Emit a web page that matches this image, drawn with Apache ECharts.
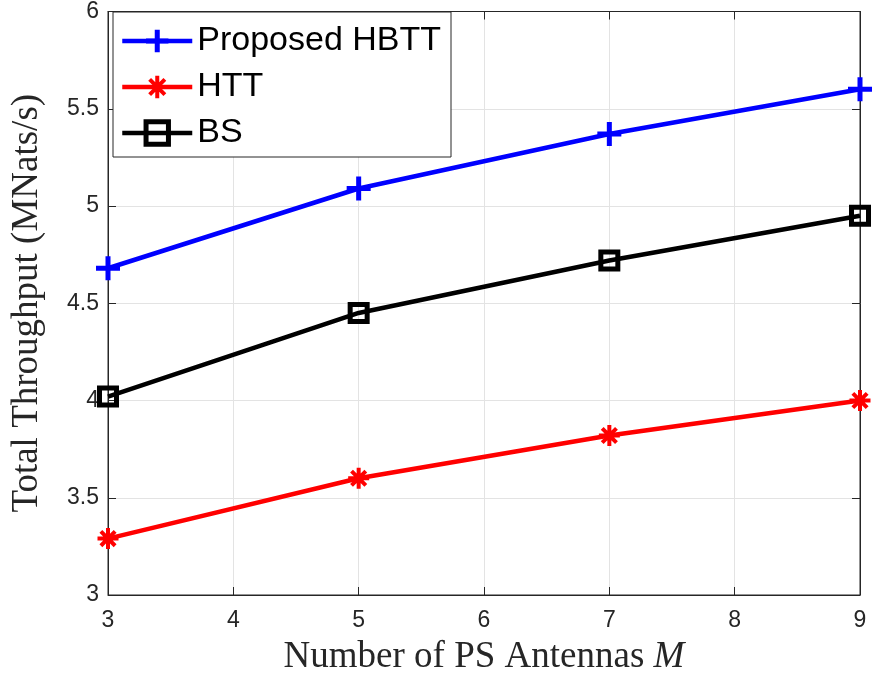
<!DOCTYPE html>
<html>
<head>
<meta charset="utf-8">
<script src="https://cdn.jsdelivr.net/npm/echarts@6/dist/echarts.min.js"></script>
<style>html,body{margin:0;padding:0;background:#fff;}#c{width:873px;height:681px;}</style>
</head>
<body>
<div id="c"></div>
<script>
const xValues = [3, 5, 7, 9];
const hbtt = [4.68, 5.09, 5.37, 5.60];
const htt = [3.29, 3.60, 3.82, 4.00];
const bs = [4.02, 4.45, 4.72, 4.95];
const seriesNames = ['Proposed HBTT', 'HTT', 'BS'];
const xTicks = [3, 4, 5, 6, 7, 8, 9];
const yTicks = [3, 3.5, 4, 4.5, 5, 5.5, 6];

const pair = arr => xValues.map((x, i) => [x, arr[i]]);
const axisColor = '#262626';
const PLUS = 'path://M0,5L10,5M5,0L5,10';
const STAR = 'path://M0,5L10,5M5,0L5,10M1.6,1.6L8.4,8.4M8.4,1.6L1.6,8.4';

const styles = [
  {symbol: PLUS, symbolSize: 24, lineStyle: {color: '#0000ff', width: 4.5},
   itemStyle: {color: '#0000ff', borderColor: '#0000ff', borderWidth: 5}},
  {symbol: STAR, symbolSize: 21, lineStyle: {color: '#ff0000', width: 4.5},
   itemStyle: {color: '#ff0000', borderColor: '#ff0000', borderWidth: 4}},
  {symbol: 'rect', symbolSize: 17, lineStyle: {color: '#000000', width: 4.5},
   itemStyle: {color: 'rgba(0,0,0,0)', borderColor: '#000000', borderWidth: 5}}
];
const dataSets = [hbtt, htt, bs];

const chart = echarts.init(document.getElementById('c'), null, {renderer: 'canvas'});
const tickLabelStyle = {fontFamily: 'Liberation Sans', fontSize: 23, color: axisColor};
chart.setOption({
  animation: false,
  backgroundColor: '#fff',
  grid: {left: 108, right: 13, top: 11, bottom: 85, show: true, borderColor: axisColor, borderWidth: 1},
  legend: {
    orient: 'vertical', left: 113, top: 12,
    data: seriesNames.map((n, i) => ({
      name: n, lineStyle: styles[i].lineStyle, itemStyle: styles[i].itemStyle
    })),
    itemWidth: 70, itemHeight: 28, itemGap: 12,
    padding: [12, 10, 7, 7],
    backgroundColor: '#fff', borderColor: axisColor, borderWidth: 1,
    textStyle: {fontFamily: 'Liberation Sans', fontSize: 34, color: '#000'}
  },
  xAxis: [{
    type: 'value', min: xTicks[0], max: xTicks[xTicks.length - 1], interval: 1,
    axisLine: {show: true, lineStyle: {color: axisColor, width: 1}},
    axisTick: {show: true, inside: true, length: 8, lineStyle: {color: axisColor}},
    splitLine: {show: true, lineStyle: {color: '#e3e3e3', width: 1}},
    axisLabel: Object.assign({margin: 14}, tickLabelStyle),
    name: '{n|Number of PS Antennas }{i|M}', nameLocation: 'middle', nameGap: 44,
    nameTextStyle: {rich: {
      n: {fontFamily: 'Liberation Serif', fontSize: 37, color: axisColor},
      i: {fontFamily: 'Liberation Serif', fontStyle: 'italic', fontSize: 37, color: axisColor}
    }}
  }, {
    type: 'value', position: 'top', min: xTicks[0], max: xTicks[xTicks.length - 1], interval: 1,
    axisLine: {show: true, lineStyle: {color: axisColor}},
    axisTick: {show: true, inside: true, length: 8, lineStyle: {color: axisColor}},
    axisLabel: {show: false}, splitLine: {show: false}
  }],
  yAxis: [{
    type: 'value', min: yTicks[0], max: yTicks[yTicks.length - 1], interval: 0.5,
    axisLine: {show: true, lineStyle: {color: axisColor, width: 1}},
    axisTick: {show: true, inside: true, length: 8, lineStyle: {color: axisColor}},
    splitLine: {show: true, lineStyle: {color: '#e3e3e3', width: 1}},
    axisLabel: Object.assign({margin: 9}, tickLabelStyle),
    name: 'Total Throughput (MNats/s)', nameLocation: 'middle', nameGap: 62,
    nameTextStyle: {fontFamily: 'Liberation Serif', fontSize: 37, color: axisColor}
  }, {
    type: 'value', position: 'right', min: yTicks[0], max: yTicks[yTicks.length - 1], interval: 0.5,
    axisLine: {show: true, lineStyle: {color: axisColor}},
    axisTick: {show: true, inside: true, length: 8, lineStyle: {color: axisColor}},
    axisLabel: {show: false}, splitLine: {show: false}
  }],
  series: seriesNames.map((n, i) => Object.assign({
    name: n, type: 'line', data: pair(dataSets[i])
  }, styles[i]))
});
</script>
</body>
</html>
